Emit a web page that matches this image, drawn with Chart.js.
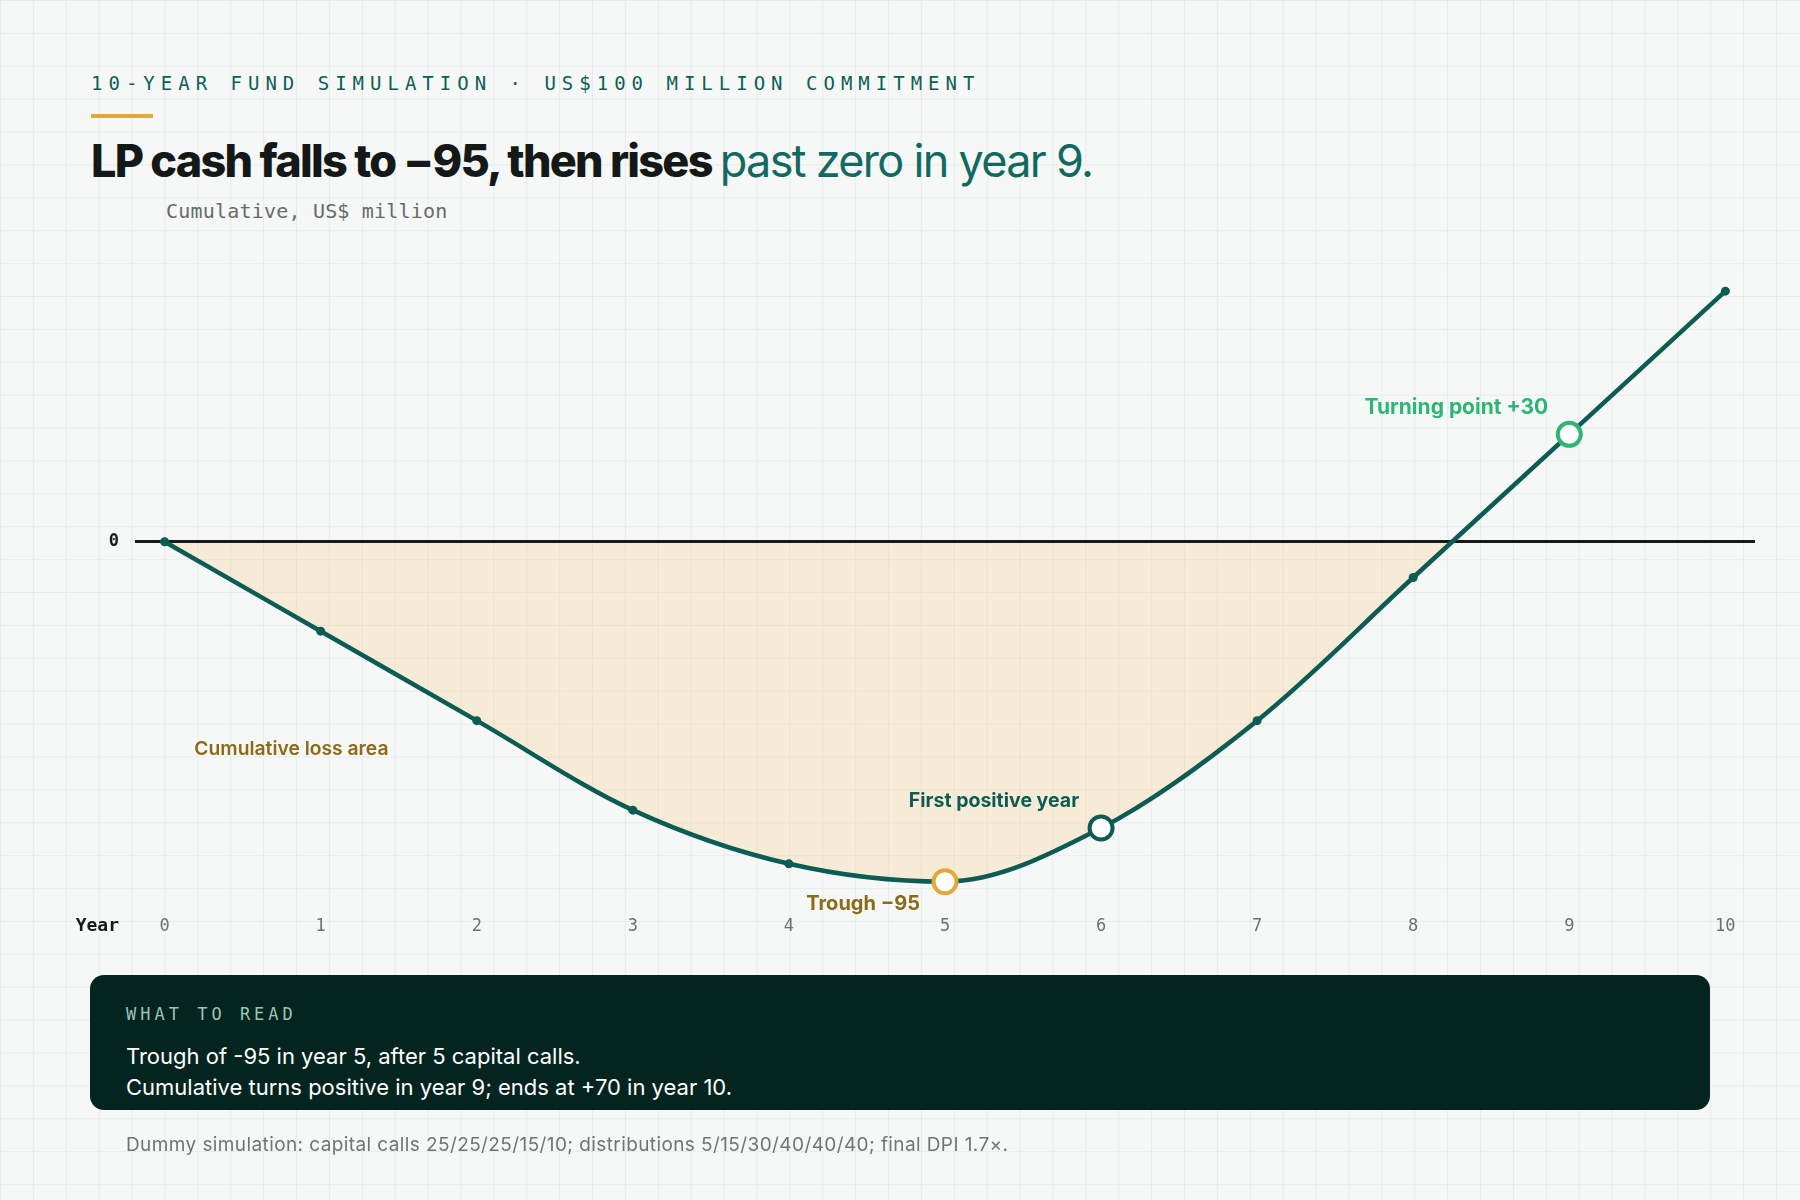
<!DOCTYPE html>
<html lang="en">
<head>
  <meta charset="UTF-8" />
  <title>LP cash curve</title>
  <script src="https://cdn.jsdelivr.net/npm/chart.js"></script>
  <style>
    html, body { margin: 0; padding: 0; }
    body {
      width: 1800px; height: 1200px; position: relative; overflow: hidden;
      background-color: #f5f8f7;
      background-image:
        linear-gradient(to right, #e7ecea 1px, transparent 1px),
        linear-gradient(to bottom, #e7ecea 1px, transparent 1px);
      background-size: 32.9px 32.9px;
      font-family: Inter, "Noto Sans", sans-serif;
    }
    .abs { position: absolute; }
    .kicker {
      left: 91px; top: 72px; line-height: 24px;
      font: 19px "DejaVu Sans Mono", monospace; letter-spacing: 6px;
      color: #0f5e56; white-space: nowrap;
    }
    .rule { left: 91px; top: 114px; width: 62px; height: 4px; background: #e2a83c; }
    h1 {
      margin: 0; left: 91px; top: 138px; font-size: 45px; line-height: 45px;
      letter-spacing: -1.75px; white-space: nowrap; color: #141816; font-weight: 800;
    }
    h1 span { color: #12695f; font-weight: 400; letter-spacing: -1.7px; }
    .sub {
      left: 166px; top: 199px; line-height: 24px; letter-spacing: 0.2px;
      font: 20px "DejaVu Sans Mono", monospace; color: #676b6a;
    }
    .year {
      left: 30px; width: 89px; top: 914px; line-height: 24px; text-align: right;
      font: bold 18px "DejaVu Sans Mono", monospace; color: #161a18;
    }
    #wrap { left: 0; top: 0; width: 1800px; height: 1200px; }
    .note {
      left: 90px; top: 975px; width: 1620px; height: 135px; border-radius: 14px;
      background: #03241f; color: #fff;
    }
    .note .tag {
      position: absolute; left: 36px; top: 29px; line-height: 24px;
      font: 17px "DejaVu Sans Mono", monospace; letter-spacing: 4px; color: #9cc4b6;
    }
    .note .line { position: absolute; left: 36px; font-size: 22px; line-height: 32px; white-space: nowrap; }
    .foot {
      left: 126px; top: 1133px; line-height: 24px; font-size: 19px; letter-spacing: 0.4px;
      color: #707573; white-space: nowrap;
    }
  </style>
</head>
<body>
  <div class="abs kicker">10-YEAR FUND SIMULATION · US$100 MILLION COMMITMENT</div>
  <div class="abs rule"></div>
  <h1 class="abs">LP cash falls to −95, then rises <span>past zero in year 9.</span></h1>
  <div class="abs sub">Cumulative, US$ million</div>

  <div class="abs" id="wrap"><canvas id="cashChart"></canvas></div>
  <div class="abs year">Year</div>

  <div class="abs note">
    <div class="tag">WHAT TO READ</div>
    <div class="line" style="top:65px">Trough of -95 in year 5, after 5 capital calls.</div>
    <div class="line" style="top:96px">Cumulative turns positive in year 9; ends at +70 in year 10.</div>
  </div>
  <div class="abs foot">Dummy simulation: capital calls 25/25/25/15/10; distributions 5/15/30/40/40/40; final DPI 1.7×.</div>

  <script>
    // data
    const years = [0, 1, 2, 3, 4, 5, 6, 7, 8, 9, 10];
    const cumulative = [0, -25, -50, -75, -90, -95, -80, -50, -10, 30, 70];
    const yTicks = [0];

    const TROUGH = 5;
    const FIRST_POSITIVE = 6;
    const TURNING = 9;

    const LINE = '#0c5c53';
    const ORANGE = '#e3a73a';
    const GREEN = '#2db672';
    const BROWN = '#8c6a18';
    const MONO = '"DejaVu Sans Mono", monospace';

    const ringColor = { [TROUGH]: ORANGE, [FIRST_POSITIVE]: LINE, [TURNING]: GREEN };
    const isRing = i => ringColor[i] !== undefined;

    // text next to the highlighted points, offsets in px
    const notes = [
      { index: TURNING, text: 'Turning point +30', color: GREEN, size: 21, dx: -21, dy: -27 },
      { index: FIRST_POSITIVE, text: 'First positive year', color: LINE, size: 19.5, dx: -22, dy: -27 },
      { index: TROUGH, text: 'Trough −95', color: BROWN, size: 20, dx: -25, dy: 22 }
    ];

    const notePlugin = {
      id: 'notes',
      afterDatasetsDraw(chart) {
        const { ctx, scales } = chart;
        const meta = chart.getDatasetMeta(0);
        ctx.save();
        ctx.textBaseline = 'middle';
        ctx.textAlign = 'right';
        notes.forEach(n => {
          const pt = meta.data[n.index];
          ctx.font = `700 ${n.size}px Inter`;
          ctx.fillStyle = n.color;
          ctx.fillText(n.text, pt.x + n.dx, pt.y + n.dy);
        });
        // area label sits inside the shaded region
        ctx.font = '600 19.3px Inter';
        ctx.textAlign = 'left';
        ctx.fillStyle = BROWN;
        ctx.fillText('Cumulative loss area', scales.x.getPixelForValue(0.19), scales.y.getPixelForValue(-58));
        ctx.restore();
      }
    };

    const cashChart = new Chart(document.getElementById('cashChart'), {
      type: 'line',
      data: {
        datasets: [{
          data: years.map((x, i) => ({ x, y: cumulative[i] })),
          borderColor: LINE,
          borderWidth: 4.5,
          cubicInterpolationMode: 'monotone',
          fill: { target: { value: 0 }, above: 'rgba(0,0,0,0)', below: 'rgba(250,195,120,0.25)' },
          pointRadius: c => isRing(c.dataIndex) ? 11.5 : 4.5,
          pointBorderWidth: c => isRing(c.dataIndex) ? 4 : 0,
          pointBackgroundColor: c => isRing(c.dataIndex) ? '#ffffff' : LINE,
          pointBorderColor: c => ringColor[c.dataIndex] || LINE
        }]
      },
      options: {
        responsive: true,
        maintainAspectRatio: false,
        animation: false,
        layout: { padding: { left: 75, right: 45, top: 255.4, bottom: 250.4 } },
        plugins: {
          legend: { display: false },
          tooltip: { enabled: false },
          filler: { drawTime: 'beforeDraw' }
        },
        scales: {
          x: {
            type: 'linear',
            min: -0.19,
            max: 10.19,
            afterBuildTicks: s => { s.ticks = years.map(v => ({ value: v })); },
            afterFit: s => { s.height = 50; },
            grid: { display: false, drawTicks: false },
            border: { display: false },
            ticks: { autoSkip: false, maxRotation: 0, padding: 17, color: '#6d7170', font: { family: MONO, size: 17 } }
          },
          y: {
            min: -100,
            max: 80,
            afterBuildTicks: s => { s.ticks = yTicks.map(v => ({ value: v })); },
            afterFit: s => { s.width = 60; },
            grid: { color: '#161a18', lineWidth: 3, drawTicks: false },
            border: { display: false },
            ticks: { padding: 16, color: '#161a18', font: { family: MONO, size: 17, weight: 'bold' } }
          }
        }
      },
      plugins: [notePlugin]
    });
  </script>
</body>
</html>
